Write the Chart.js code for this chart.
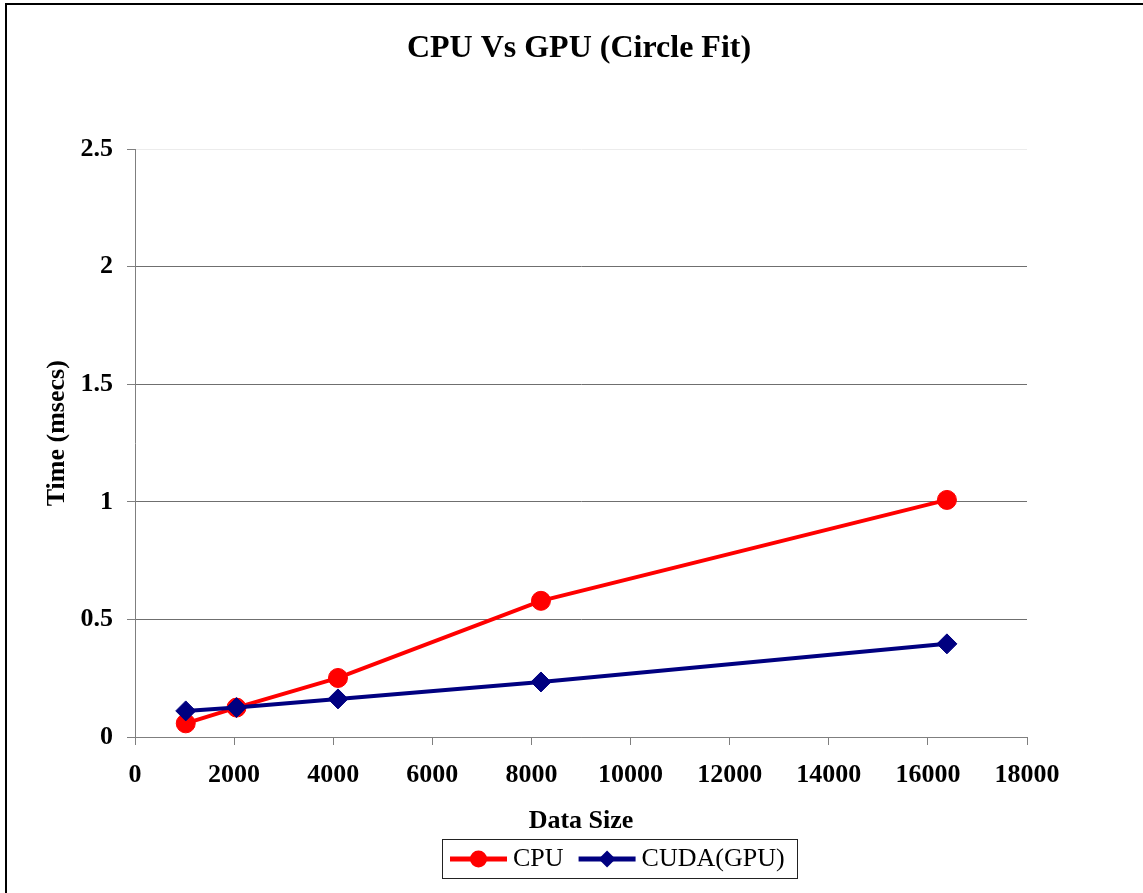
<!DOCTYPE html>
<html>
<head>
<meta charset="utf-8">
<title>CPU Vs GPU (Circle Fit)</title>
<script src="https://cdn.jsdelivr.net/npm/chart.js@4.4.1/dist/chart.umd.min.js"></script>
<style>
  html, body { margin: 0; padding: 0; background: #fff; overflow: hidden; }
  #frame { position: absolute; left: 5px; top: 3px; width: 1200px; height: 1000px; border: 2px solid #000; }
  #chart { position: absolute; left: 0; top: 0; }
</style>
</head>
<body>
<div id="frame"></div>
<canvas id="chart" width="1143" height="893"></canvas>
<script>
// data
const dataSizes = [1024, 2048, 4096, 8192, 16384];
const cpuTimes = [0.058, 0.125, 0.251, 0.579, 1.008];
const gpuTimes = [0.111, 0.125, 0.162, 0.234, 0.396];
const xTicks = [0, 2000, 4000, 6000, 8000, 10000, 12000, 14000, 16000, 18000];
const yTicks = [0, 0.5, 1, 1.5, 2, 2.5];

const SERIF = "'Liberation Serif', 'Times New Roman', serif";
const AXIS_GREY = '#7f7f7f';

function toPoints(xs, ys) {
  return xs.map((x, i) => ({ x, y: ys[i] }));
}

// title drawn by hand so it can sit over the plot area, not the whole canvas
const titlePlugin = {
  id: 'plotTitle',
  afterDraw(chart) {
    const ctx = chart.ctx;
    ctx.save();
    ctx.font = 'bold 32px ' + SERIF;
    ctx.fillStyle = '#000';
    ctx.textAlign = 'center';
    ctx.textBaseline = 'middle';
    ctx.fillText('CPU Vs GPU (Circle Fit)', 579, 49);
    ctx.restore();
  }
};

function drawMarker(ctx, style, x, y, r, color) {
  ctx.fillStyle = color;
  ctx.beginPath();
  if (style === 'circle') {
    ctx.arc(x, y, r, 0, Math.PI * 2);
  } else {
    ctx.moveTo(x - r, y);
    ctx.lineTo(x, y - r);
    ctx.lineTo(x + r, y);
    ctx.lineTo(x, y + r);
    ctx.closePath();
  }
  ctx.fill();
}

// boxed legend with line + marker samples (excel style)
const boxLegend = {
  id: 'boxLegend',
  afterDraw(chart) {
    const ctx = chart.ctx;
    const box = { left: 442, top: 839, width: 356, height: 40 };
    const midY = box.top + box.height / 2;
    ctx.save();
    ctx.strokeStyle = '#222';
    ctx.lineWidth = 1;
    ctx.strokeRect(box.left + 0.5, box.top + 0.5, box.width - 1, box.height - 1);
    ctx.font = '26px ' + SERIF;
    ctx.textBaseline = 'middle';
    ctx.textAlign = 'left';
    let x = box.left + 8;
    chart.data.datasets.forEach(ds => {
      const lineLen = 57;
      ctx.strokeStyle = ds.borderColor;
      ctx.lineWidth = 5;
      ctx.beginPath();
      ctx.moveTo(x, midY);
      ctx.lineTo(x + lineLen, midY);
      ctx.stroke();
      drawMarker(ctx, ds.pointStyle, x + lineLen / 2, midY, 8.5, ds.borderColor);
      x += lineLen + 6;
      ctx.fillStyle = '#000';
      ctx.fillText(ds.label, x, midY);
      x += ctx.measureText(ds.label).width + 15;
    });
    ctx.restore();
  }
};

new Chart(document.getElementById('chart').getContext('2d'), {
  type: 'line',
  data: {
    datasets: [
      {
        label: 'CPU',
        data: toPoints(dataSizes, cpuTimes),
        borderColor: '#ff0000',
        backgroundColor: '#ff0000',
        borderWidth: 4,
        pointStyle: 'circle',
        pointRadius: 9.5,
        pointBorderWidth: 1,
        tension: 0,
        order: 1
      },
      {
        label: 'CUDA(GPU)',
        data: toPoints(dataSizes, gpuTimes),
        borderColor: '#000080',
        backgroundColor: '#000080',
        borderWidth: 4,
        pointStyle: 'rectRot',
        pointRadius: 10,
        pointBorderWidth: 1,
        tension: 0,
        order: 0
      }
    ]
  },
  options: {
    responsive: false,
    animation: false,
    devicePixelRatio: 1,
    layout: { padding: { top: 149, right: 116, bottom: 0, left: 0 } },
    plugins: {
      legend: { display: false },
      title: { display: false },
      tooltip: { enabled: false }
    },
    scales: {
      x: {
        type: 'linear',
        min: 0,
        max: 18000,
        afterBuildTicks: s => { s.ticks = xTicks.map(v => ({ value: v })); },
        afterFit: s => { s.height = 156; },
        ticks: {
          font: { family: SERIF, size: 26, weight: 'bold' },
          color: '#000',
          padding: 15,
          maxRotation: 0,
          autoSkip: false,
          callback: v => String(v)
        },
        grid: { drawOnChartArea: false, drawTicks: true, tickLength: 8, tickColor: AXIS_GREY },
        border: { color: AXIS_GREY, width: 1 },
        title: {
          display: true,
          text: 'Data Size',
          color: '#000',
          font: { family: SERIF, size: 26, weight: 'bold' },
          padding: { top: 0, bottom: 56 }
        }
      },
      y: {
        min: 0,
        max: 2.5,
        afterBuildTicks: s => { s.ticks = yTicks.map(v => ({ value: v })); },
        afterFit: s => { s.width = 135; },
        ticks: {
          font: { family: SERIF, size: 26, weight: 'bold' },
          color: '#000',
          padding: 14,
          callback: v => String(v)
        },
        grid: {
          color: c => (c.tick && c.tick.value === 2.5 ? '#ececec' : '#6f6f6f'),
          tickColor: AXIS_GREY,
          tickLength: 8
        },
        border: { color: AXIS_GREY, width: 1 },
        title: {
          display: true,
          text: '   Time (msecs)',
          color: '#000',
          font: { family: SERIF, size: 26, weight: 'bold' },
          padding: { top: 42, bottom: 0 }
        }
      }
    }
  },
  plugins: [titlePlugin, boxLegend]
});
</script>
</body>
</html>
